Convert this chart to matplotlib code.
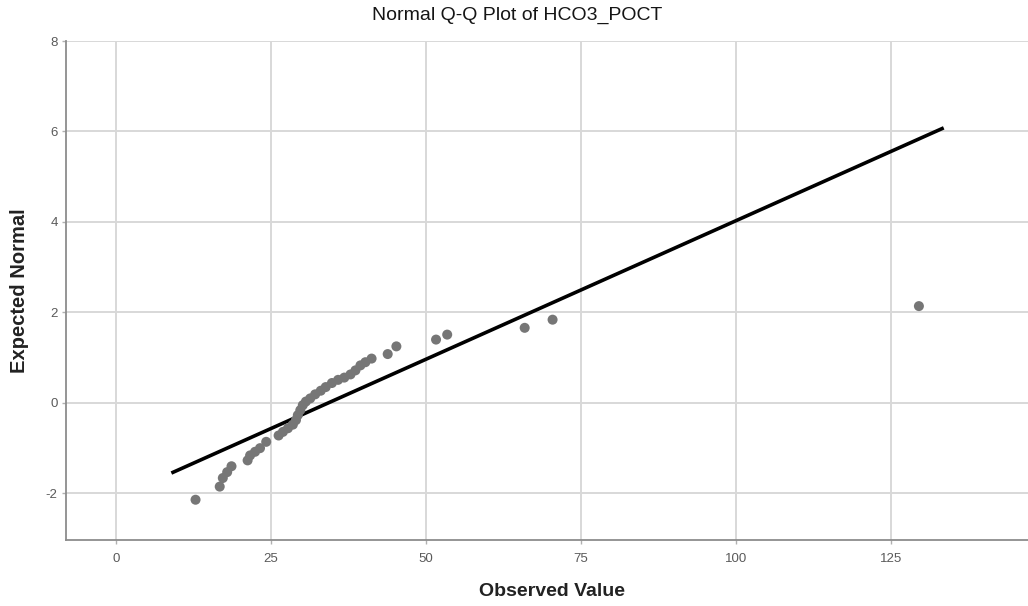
import matplotlib
matplotlib.use('Agg')
import matplotlib.pyplot as plt

plt.rcParams['font.family'] = ['Liberation Sans', 'DejaVu Sans']
plt.rcParams['axes.unicode_minus'] = False

observed = [12.8, 16.7, 17.2, 17.9, 18.6, 21.2, 21.6, 22.4, 23.2, 24.2,
            26.2, 26.9, 27.7, 28.5, 29.0, 29.3, 29.7, 30.1, 30.6, 31.3,
            32.1, 33.0, 33.8, 34.8, 35.8, 36.8, 37.8, 38.6, 39.4, 40.2,
            41.2, 43.8, 45.2, 51.6, 53.4, 65.9, 70.4, 129.5]
expected = [-2.14, -1.85, -1.66, -1.53, -1.40, -1.27, -1.16, -1.08, -1.00, -0.86,
            -0.72, -0.64, -0.56, -0.48, -0.38, -0.27, -0.16, -0.05, 0.03, 0.10,
            0.19, 0.27, 0.35, 0.44, 0.51, 0.56, 0.63, 0.72, 0.83, 0.90,
            0.98, 1.08, 1.25, 1.40, 1.51, 1.66, 1.84, 2.14]

# reference line endpoints
line_x = [8.9, 133.5]
line_y = [-1.55, 6.08]

x_ticks = [0, 25, 50, 75, 100, 125]
y_ticks = [-2, 0, 2, 4, 6, 8]

fig = plt.figure(figsize=(10.28, 6.06), dpi=100)
ax = fig.add_axes([66 / 1028, 66 / 606, 962 / 1028, 499 / 606])

ax.set_xlim(-8.1, 147.1)
ax.set_ylim(-3.03, 8.0)
ax.set_xticks(x_ticks)
ax.set_yticks(y_ticks)

ax.grid(True, color='#d8d8d8', linewidth=1.4)
ax.set_axisbelow(True)

ax.plot(line_x, line_y, color='black', linewidth=2.6, solid_capstyle='butt', zorder=3)
ax.scatter(observed, expected, s=52, color='#767676', edgecolors='none', zorder=4)

for side in ['top', 'right']:
    ax.spines[side].set_visible(False)
for side in ['left', 'bottom']:
    ax.spines[side].set_color('#8c8c8c')
    ax.spines[side].set_linewidth(1.3)

ax.tick_params(axis='both', colors='#b0b0b0', labelcolor='#5a5a5a', labelsize=9.5,
               length=3, width=1)
ax.tick_params(axis='x', pad=6)
ax.tick_params(axis='y', pad=3)

ax.set_xlabel('Observed Value', fontsize=14, fontweight='bold', color='#222222')
ax.set_ylabel('Expected Normal', fontsize=14.5, fontweight='bold', color='#222222')
ax.xaxis.set_label_coords(0.505, -0.104)
ax.yaxis.set_label_coords(-0.048, 0.5)
ax.xaxis.label.set_va('center')
ax.yaxis.label.set_va('center')

fig.text(0.503, 0.975, 'Normal Q-Q Plot of HCO3_POCT', ha='center', va='center',
         fontsize=14, color='#151515')

plt.savefig('out.png', dpi=100)
